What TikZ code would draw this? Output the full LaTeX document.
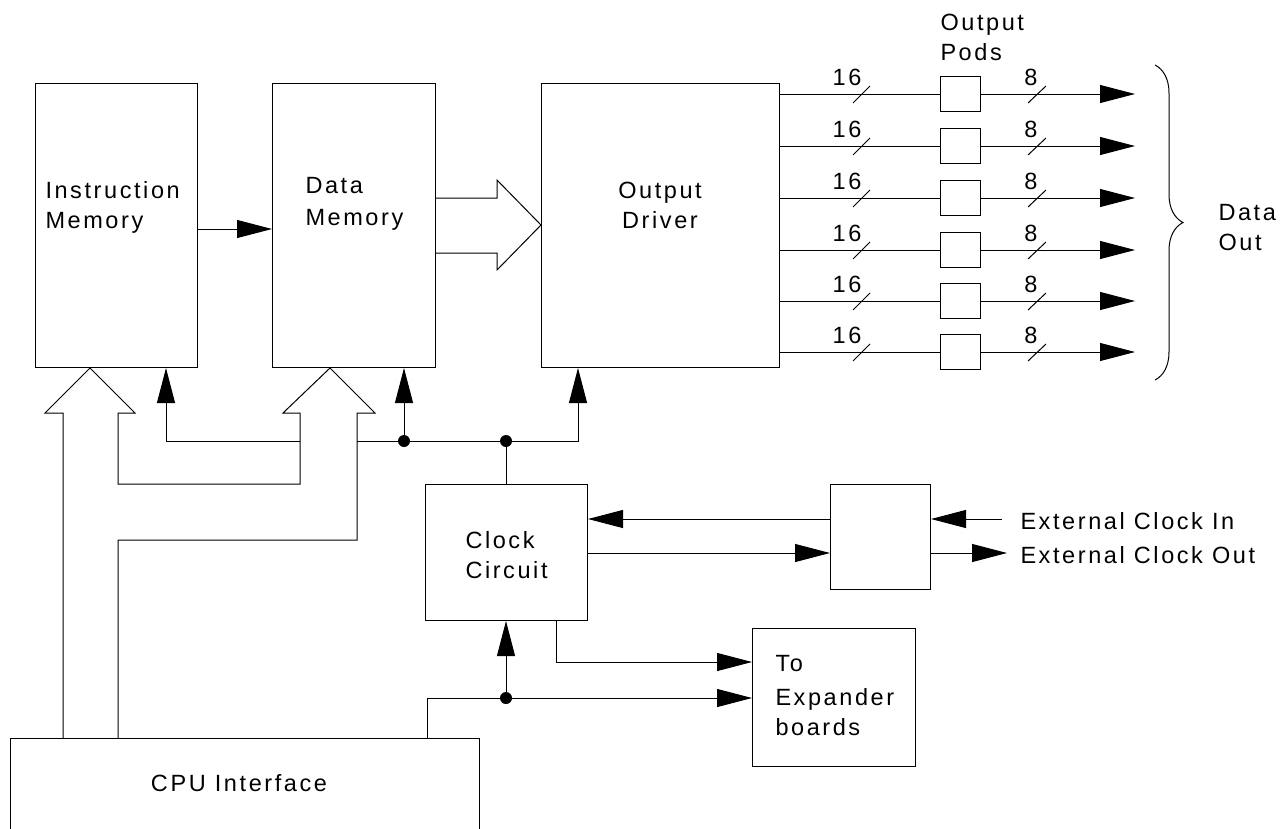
\documentclass[tikz,border=0pt]{standalone}
\usepackage{fontspec}
\setmainfont{Liberation Sans}[LetterSpace=11]
\usetikzlibrary{arrows.meta,decorations.pathreplacing}
\begin{document}
\begin{tikzpicture}[x=1pt,y=-1pt,line width=1pt]
\tikzset{
  box/.style={draw,line width=1pt,inner sep=0pt,anchor=north west},
  lbl/.style={font=\fontsize{23.5}{28}\selectfont,inner sep=0pt,anchor=base west},
  tri/.style={-{Triangle[length=35pt,width=18pt]}},
  dot/.style={circle,fill,inner sep=0pt,minimum size=12pt},
}
\useasboundingbox (0,0) rectangle (1283,828);
\clip (0,0) rectangle (1283,828);
% boxes
\node[box,minimum width=162pt,minimum height=284pt] (im) at (35,83) {};
\node[box,minimum width=163pt,minimum height=284pt] (dm) at (272,83) {};
\node[box,minimum width=238pt,minimum height=284pt] (od) at (541,83) {};
\node[box,minimum width=162pt,minimum height=136pt] (clk) at (425,484) {};
\node[box,minimum width=100pt,minimum height=105pt] (sb) at (830,484) {};
\node[box,minimum width=163pt,minimum height=138pt] (exp) at (752,628) {};
\node[box,minimum width=469pt,minimum height=130pt] (cpu) at (10,738) {};
% texts
\node[lbl] (t1) at (45,198) {Instruction};
\node[lbl] (t2) at (45,228) {Memory};
\node[lbl] (t3) at (305,193) {Data};
\node[lbl] (t4) at (305,225) {Memory};
\node[lbl,anchor=base] (t5) at (660,198) {Output};
\node[lbl,anchor=base] (t6) at (660,228) {Driver};
\node[lbl] (t7) at (465,548) {Clock};
\node[lbl] (t8) at (465,578) {Circuit};
\node[lbl] (t9) at (1020,529) {External Clock In};
\node[lbl] (t10) at (1020,563) {External Clock Out};
\node[lbl] (t11) at (775,671) {To};
\node[lbl] (t12) at (775,705) {Expander};
\node[lbl] (t13) at (775,735) {boards};
\node[lbl,anchor=base] (t14) at (239,791) {CPU Interface};
\node[lbl] (t15) at (940,30) {Output};
\node[lbl] (t16) at (940,60) {Pods};
\node[lbl] (t17) at (1218,220) {Data};
\node[lbl] (t18) at (1218,250) {Out};
% output rows
\foreach \i/\yy in {1/94,2/146,3/198,4/250,5/301,6/352} {
  \node[box,anchor=center,minimum width=40pt,minimum height=35pt] (p\i) at (960,\yy) {};
  \coordinate (e\i) at (1135,\yy);
  \draw (od.east |- p\i.west) -- (p\i.west);
  \draw[tri] (p\i.east) -- (e\i);
  \draw (853,\yy+9) -- (870,\yy-8);
  \node[lbl,anchor=base] (a\i) at (847,\yy-9) {16};
  \draw (1028,\yy+9) -- (1046,\yy-8);
  \node[lbl,anchor=base] (b\i) at (1031,\yy-9) {8};
}
% brace
\draw[decorate,decoration={brace,amplitude=28pt}] (1155,65) -- (1155,380);
% IM -> DM
\coordinate (y229) at (0,229);
\draw[tri] (im.east |- y229) -- (dm.west |- y229);
% fat arrow DM -> OD
\draw (dm.east |- 0,198) -- (497,198) -- (497,180) -- (od.west |- 0,225) -- (497,270) -- (497,253) -- (dm.east |- 0,253);
% fat arrows from CPU up
\draw (cpu.north -| 63,0) -- (63,413) -- (45,413) -- (im.south -| 90,0) -- (135,413) -- (118,413)
  -- (118,484) -- (300,484) -- (300,413) -- (283,413) -- (dm.south -| 330,0) -- (375,413) -- (357,413)
  -- (357,540) -- (118,540) -- (cpu.north -| 118,0);
% control bus
\coordinate (j1) at (166,441);
\coordinate (j2) at (300,441);
\coordinate (j3) at (357,441);
\coordinate (j4) at (578,441);
\node[dot] (d1) at (404,441) {};
\node[dot] (d2) at (506,441) {};
\draw[tri] (j2) -- (j1) -- (im.south -| j1);
\draw[tri] (j3) -- (j4) -- (od.south -| j4);
\draw[tri] (d1.center) -- (dm.south -| d1);
\draw (d2.center) -- (clk.north -| d2);
% clock <-> small box
\coordinate (y519) at (0,519);
\coordinate (y553) at (0,553);
\draw[tri] (sb.west |- y519) -- (clk.east |- y519);
\draw[tri] (clk.east |- y553) -- (sb.west |- y553);
\coordinate (cin) at (1002,519);
\coordinate (cout) at (1007,553);
\draw[tri] (cin) -- (sb.east |- cin);
\draw[tri] (sb.east |- cout) -- (cout);
% clock -> expander
\coordinate (c1) at (556,662);
\draw[tri] (clk.south -| c1) -- (c1) -- (exp.west |- c1);
% cpu -> clock / expander
\coordinate (c2) at (427,698);
\node[dot] (d3) at (506,698) {};
\draw[tri] (cpu.north -| c2) -- (c2) -- (exp.west |- c2);
\draw[tri] (d3.center) -- (clk.south -| d3);
\end{tikzpicture}
\end{document}
